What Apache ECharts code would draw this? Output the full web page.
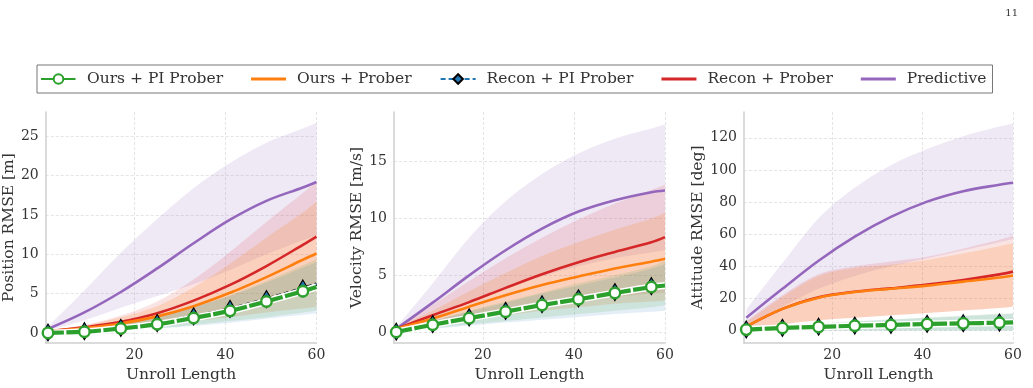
<!DOCTYPE html>
<html>
<head>
<meta charset="utf-8">
<script src="https://cdn.jsdelivr.net/npm/echarts@6/dist/echarts.min.js"></script>
<style>
  html, body { margin: 0; padding: 0; background: #fff; }
  #main { width: 1033px; height: 388px; }
</style>
</head>
<body>
<div id="main"></div>
<script>
const unroll = [1, 9, 17, 25, 33, 41, 49, 57, 60]
const names = ['Ours + PI Prober', 'Ours + Prober', 'Recon + PI Prober', 'Recon + Prober', 'Predictive']

// position RMSE [m]
const posPred = [0.5, 2.6, 5.2, 8.2, 11.4, 14.4, 16.8, 18.5, 19.2]
const posPredHi = [0.8, 5.4, 10.2, 14.5, 18.4, 21.6, 24.2, 26.0, 26.7]
const posPredLo = [0.3, 1.6, 3.2, 4.7, 6.2, 8.0, 10.0, 11.8, 12.4]
const posRecon = [0.2, 0.7, 1.4, 2.5, 4.1, 6.1, 8.5, 11.2, 12.25]
const posReconHi = [0.3, 1.0, 2.2, 4.0, 6.8, 10.3, 14.1, 17.8, 19.2]
const posReconLo = [0.1, 0.4, 0.8, 1.3, 2.2, 3.2, 4.4, 5.6, 6.0]
const posOurs = [0.2, 0.6, 1.2, 2.1, 3.4, 5.1, 7.1, 9.3, 10.1]
const posOursHi = [0.3, 0.95, 2.0, 3.4, 5.8, 8.8, 12.1, 15.3, 16.7]
const posOursLo = [0.1, 0.35, 0.6, 1.0, 1.5, 2.0, 2.6, 3.1, 3.3]
const posOursPI = [0.0, 0.15, 0.55, 1.1, 1.9, 2.8, 4.0, 5.3, 5.85]
const posOursPIHi = [0.2, 0.5, 1.2, 2.1, 3.3, 4.8, 6.6, 8.6, 9.4]
const posOursPILo = [0.0, 0.05, 0.3, 0.6, 1.0, 1.5, 2.0, 2.6, 2.8]
const posReconPI = [0.05, 0.22, 0.65, 1.25, 2.1, 3.05, 4.3, 5.65, 6.2]
const posReconPIHi = [0.2, 0.5, 1.2, 2.1, 3.3, 4.7, 6.4, 8.3, 9.0]
const posReconPILo = [0.0, 0.05, 0.3, 0.55, 0.9, 1.3, 1.8, 2.3, 2.5]

// velocity RMSE [m/s]
const velPred = [0.3, 2.6, 5.0, 7.2, 9.1, 10.6, 11.6, 12.3, 12.45]
const velPredHi = [0.4, 4.3, 8.3, 11.5, 13.9, 15.7, 17.0, 17.9, 18.25]
const velPredLo = [0.2, 1.2, 2.6, 3.8, 4.9, 5.8, 6.5, 7.0, 7.2]
const velRecon = [0.3, 1.5, 2.65, 3.9, 5.1, 6.15, 7.05, 7.9, 8.35]
const velReconHi = [0.4, 2.4, 4.5, 6.5, 8.3, 9.9, 11.3, 12.5, 12.95]
const velReconLo = [0.2, 0.8, 1.3, 1.8, 2.3, 2.7, 3.1, 3.4, 3.5]
const velOurs = [0.3, 1.2, 2.25, 3.25, 4.15, 4.9, 5.6, 6.2, 6.45]
const velOursHi = [0.4, 1.9, 3.6, 5.2, 6.7, 7.9, 9.0, 10.0, 10.5]
const velOursLo = [0.2, 0.6, 1.1, 1.5, 1.9, 2.2, 2.5, 2.7, 2.8]
const velOursPI = [0.03, 0.66, 1.24, 1.81, 2.39, 2.9, 3.45, 3.97, 4.11]
const velOursPIHi = [0.1, 1.0, 1.9, 2.7, 3.5, 4.3, 5.0, 5.8, 6.3]
const velOursPILo = [0.0, 0.35, 0.7, 1.0, 1.3, 1.6, 1.9, 2.2, 2.4]
const velReconPI = [0.05, 0.72, 1.31, 1.88, 2.46, 2.98, 3.53, 4.05, 4.19]
const velReconPIHi = [0.1, 1.0, 1.8, 2.6, 3.4, 4.1, 4.8, 5.6, 6.0]
const velReconPILo = [0.0, 0.3, 0.6, 0.85, 1.1, 1.35, 1.6, 1.8, 1.9]

// attitude RMSE [deg]
const attPred = [8, 26, 43.5, 58.5, 70.8, 80.3, 86.8, 90.8, 92]
const attPredHi = [13, 42, 70, 89, 103, 113, 121, 127, 129]
const attPredLo = [4, 15, 26, 34, 40, 45, 50, 55, 57]
const attRecon = [2.5, 13.5, 20.8, 24.2, 26.3, 28.6, 31.5, 35, 36.7]
const attReconHi = [6, 22, 35, 40, 43, 46, 51, 56.5, 59]
const attReconLo = [1, 4, 6.5, 8, 9.5, 11, 12.5, 14, 15]
const attOurs = [2.5, 13.5, 20.5, 24, 26, 28, 30.5, 33, 34.3]
const attOursHi = [5, 21, 34, 39, 41, 44, 48, 52.5, 54.3]
const attOursLo = [1, 4, 6.5, 8, 9.5, 11, 12.5, 14, 15]
const attOursPI = [0.6, 1.6, 2.3, 3.0, 3.5, 4.1, 4.5, 4.9, 5.1]
const attOursPIHi = [1, 3, 4.5, 5.8, 7, 8.2, 9.3, 10.4, 10.8]
const attOursPILo = [0, 0, 0, 0, 0, 0, 0, 0, 0]
const attReconPI = [0.7, 1.7, 2.4, 3.1, 3.6, 4.2, 4.6, 5.0, 5.2]
const attReconPIHi = [1, 2.8, 4.2, 5.5, 6.7, 7.8, 8.9, 10, 10.4]
const attReconPILo = [0, 0, 0, 0, 0, 0, 0, 0, 0]

const FONT = "'DejaVu Serif', 'Liberation Serif', serif"
const C = { green: '#2ca02c', orange: '#ff7f0e', blue: '#1f77b4', red: '#d62728', purple: '#9467bd' }
const BAND = {
	purple: 'rgba(148,103,189,0.15)',
	red: 'rgba(214,39,40,0.13)',
	orange: 'rgba(255,127,14,0.18)',
	blue: 'rgba(31,119,180,0.12)',
	green: 'rgba(44,160,44,0.12)',
}
const LINE_ICON = 'path://M0,0H34V3H0Z'

const panels = [
	{ title: 'Position RMSE [m]', grid: { left: 44.5, width: 272 }, min: -1.3, max: 28.1, split: 6, gap: 25,
		pred: [posPred, posPredLo, posPredHi], recon: [posRecon, posReconLo, posReconHi], ours: [posOurs, posOursLo, posOursHi],
		reconPI: [posReconPI, posReconPILo, posReconPIHi], oursPI: [posOursPI, posOursPILo, posOursPIHi] },
	{ title: 'Velocity RMSE [m/s]', grid: { left: 394, width: 271 }, min: -0.95, max: 19.34, split: 4, gap: 24,
		pred: [velPred, velPredLo, velPredHi], recon: [velRecon, velReconLo, velReconHi], ours: [velOurs, velOursLo, velOursHi],
		reconPI: [velReconPI, velReconPILo, velReconPIHi], oursPI: [velOursPI, velOursPILo, velOursPIHi] },
	{ title: 'Attitude RMSE [deg]', grid: { left: 744, width: 269 }, min: -7.8, max: 136.1, split: 7, gap: 33,
		pred: [attPred, attPredLo, attPredHi], recon: [attRecon, attReconLo, attReconHi], ours: [attOurs, attOursLo, attOursHi],
		reconPI: [attReconPI, attReconPILo, attReconPIHi], oursPI: [attOursPI, attOursPILo, attOursPIHi] },
]

const pairs = ys => unroll.map((x, i) => [x, ys[i]])

// catmull-rom through pixel points -> bezier path commands
function spline(pts) {
	let d = ''
	for (let i = 0; i < pts.length - 1; i++) {
		const p0 = pts[i - 1] || pts[i], p1 = pts[i], p2 = pts[i + 1], p3 = pts[i + 2] || p2
		const c1 = [p1[0] + (p2[0] - p0[0]) / 6, p1[1] + (p2[1] - p0[1]) / 6]
		const c2 = [p2[0] - (p3[0] - p1[0]) / 6, p2[1] - (p3[1] - p1[1]) / 6]
		d += ` C${c1[0]},${c1[1]} ${c2[0]},${c2[1]} ${p2[0]},${p2[1]}`
	}
	return d
}

function band(g, lo, hi, fill) {
	return {
		type: 'custom', xAxisIndex: g, yAxisIndex: g, silent: true, z: 1,
		data: unroll.map((x, i) => [x, lo[i], hi[i]]),
		encode: { x: 0, y: [1, 2] },
		renderItem(params, api) {
			if (params.dataIndex !== 0) return null
			const top = unroll.map((x, i) => api.coord([x, hi[i]]))
			const bot = unroll.map((x, i) => api.coord([x, lo[i]])).reverse()
			const d = `M${top[0][0]},${top[0][1]}` + spline(top) + ` L${bot[0][0]},${bot[0][1]}` + spline(bot) + ' Z'
			return { type: 'path', shape: { pathData: d }, style: { fill, stroke: null } }
		},
	}
}

function line(g, name, ys, color, z, extra) {
	return Object.assign({
		type: 'line', name, xAxisIndex: g, yAxisIndex: g, data: pairs(ys), smooth: 0.35,
		symbol: 'none', z, lineStyle: { color, width: 2.6 }, itemStyle: { color },
	}, extra)
}

const grids = [], xAxes = [], yAxes = [], series = []
panels.forEach((p, g) => {
	grids.push({ left: p.grid.left, width: p.grid.width, top: 112, height: 235, containLabel: false })
	xAxes.push({
		gridIndex: g, type: 'value', min: 0.5, max: 60, splitNumber: 3,
		name: 'Unroll Length', nameLocation: 'middle', nameGap: 18,
		nameTextStyle: { fontFamily: FONT, fontSize: 15.5, color: '#333' },
		axisLine: { show: true, onZero: false, lineStyle: { color: '#cfcfcf', width: 1.5 } },
		axisTick: { show: false },
		axisLabel: { showMinLabel: false, fontFamily: FONT, fontSize: 14, color: '#333', margin: 5 },
		splitLine: { show: true, showMinLine: false, lineStyle: { color: '#dedede', type: [3, 2], width: 0.8 } },
	})
	yAxes.push({
		gridIndex: g, type: 'value', min: p.min, max: p.max, splitNumber: p.split,
		name: p.title, nameLocation: 'middle', nameGap: p.gap, nameRotate: 90,
		nameTextStyle: { fontFamily: FONT, fontSize: 15.5, color: '#333' },
		axisLine: { show: true, onZero: false, lineStyle: { color: '#cfcfcf', width: 1.5 } },
		axisTick: { show: false },
		axisLabel: { showMinLabel: false, showMaxLabel: false, fontFamily: FONT, fontSize: 14, color: '#333', margin: 7 },
		splitLine: { show: true, showMinLine: false, showMaxLine: false, lineStyle: { color: '#dedede', type: [3, 2], width: 0.8 } },
	})

	series.push(band(g, p.pred[1], p.pred[2], BAND.purple))
	series.push(band(g, p.recon[1], p.recon[2], BAND.red))
	series.push(band(g, p.ours[1], p.ours[2], BAND.orange))
	series.push(band(g, p.reconPI[1], p.reconPI[2], BAND.blue))
	series.push(band(g, p.oursPI[1], p.oursPI[2], BAND.green))

	series.push(line(g, 'Predictive', p.pred[0], C.purple, 3))
	series.push(line(g, 'Recon + Prober', p.recon[0], C.red, 4))
	series.push(line(g, 'Ours + Prober', p.ours[0], C.orange, 5))
	// black edge under the recon + PI line
	series.push(line(g, '', p.reconPI[0], '#111', 6, { lineStyle: { color: '#111', width: 3.4, type: [5, 3] } }))
	series.push(line(g, 'Recon + PI Prober', p.reconPI[0], C.blue, 7, {
		lineStyle: { color: C.blue, width: 1.8, type: [5, 3] },
		symbol: 'diamond', showSymbol: true, symbolSize: (v, q) => (q.dataIndex < 8 ? [10, 17] : 0),
		itemStyle: { color: C.blue, borderColor: '#000', borderWidth: 1.2 },
	}))
	// white halo under the green line
	series.push(line(g, '', p.oursPI[0], '#fff', 8, { lineStyle: { color: '#fff', width: 7 } }))
	series.push(line(g, 'Ours + PI Prober', p.oursPI[0], C.green, 9, {
		lineStyle: { color: C.green, width: 4.2, type: [16, 2.5] },
		symbol: 'circle', showSymbol: true, symbolSize: (v, q) => (q.dataIndex < 8 ? 10.5 : 0),
		itemStyle: { color: '#fff', borderColor: C.green, borderWidth: 2.4 },
	}))
})

const chart = echarts.init(document.getElementById('main'), null, { renderer: 'canvas' })
chart.setOption({
	animation: false,
	backgroundColor: '#fff',
	graphic: [{ type: 'text', right: 15, top: 8, style: { text: '11', fontFamily: FONT, fontSize: 10, fill: '#333' } }],
	legend: {
		data: [
			{ name: names[0] },
			{ name: names[1], icon: LINE_ICON },
			{ name: names[2] },
			{ name: names[3], icon: LINE_ICON },
			{ name: names[4], icon: LINE_ICON },
		],
		left: 37, top: 65, itemWidth: 35, itemHeight: 12, itemGap: 28,
		padding: [6, 6, 6, 3], borderColor: '#777', borderWidth: 1, borderRadius: 0,
		textStyle: { fontFamily: FONT, fontSize: 15.5, color: '#333', padding: [0, 0, 0, 6] },
	},
	grid: grids,
	xAxis: xAxes,
	yAxis: yAxes,
	series,
})
</script>
</body>
</html>
